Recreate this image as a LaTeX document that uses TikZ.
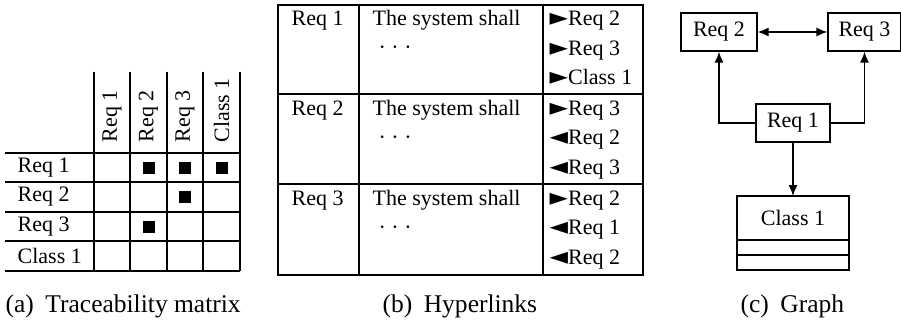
\documentclass[tikz,border=0pt]{standalone}
\usepackage{fontspec}
\setmainfont{Liberation Serif}
\newfontfamily\symfont{DejaVu Sans}
\usetikzlibrary{arrows.meta}
\newcommand\rtri{{\symfont\fontsize{24}{24}\selectfont ►}}
\newcommand\ltri{{\symfont\fontsize{24}{24}\selectfont ◄}}
\newcommand\mydots{·\kern5.5pt·\kern5.5pt·}
\begin{document}
\begin{tikzpicture}[x=1pt,y=-1pt,
  font=\fontsize{22}{26}\selectfont,
  line width=1.3pt,
  lab/.style={anchor=base west,inner sep=0pt},
  rowlab/.style={anchor=west,inner sep=0pt},
  collab/.style={anchor=west,rotate=90,inner sep=0pt},
  dotsq/.style={fill=black,minimum size=12pt,inner sep=0pt},
  box/.style={draw,line width=1.3pt,inner sep=0pt},
  captext/.style={anchor=base west,inner sep=0pt,font=\fontsize{25.5}{29}\selectfont},
  arr/.style={-{Latex[length=11pt,width=9pt]},line width=1.3pt}]
\useasboundingbox (0,0) rectangle (901,326);
% ---------- (a) matrix ----------
\foreach \x in {94,130,167,203,240} \draw (\x,72) -- (\x,271);
\foreach \y in {153,182,212,241,271} \draw (5,\y) -- (240,\y);
\node[collab] (h1) at (112,143) {Req 1};
\node[collab] (h2) at (148.5,143) {Req 2};
\node[collab] (h3) at (185,143) {Req 3};
\node[collab] (h4) at (221.5,143) {Class 1};
\node[rowlab] (m1) at (17,167.5) {Req 1};
\node[rowlab] (m2) at (17,197) {Req 2};
\node[rowlab] (m3) at (17,226.5) {Req 3};
\node[rowlab] (m4) at (17,256) {Class 1};
\node[dotsq] (s12) at (148.5,167.5) {};
\node[dotsq] (s13) at (185,167.5) {};
\node[dotsq] (s14) at (221.5,167.5) {};
\node[dotsq] (s23) at (185,197) {};
\node[dotsq] (s32) at (148.5,226.5) {};
% ---------- (b) hyperlinks ----------
\draw (278,5) rectangle (643,275);
\draw (359,5) -- (359,275);
\draw (543,5) -- (543,275);
\draw (278,94) -- (643,94);
\draw (278,184) -- (643,184);
\foreach \t/\n in {5/1,94/2,184/3}{
  \node[lab] (q\n) at (291,\t+21) {Req \n};
  \node[lab] (t\n) at (372,\t+21) {The system shall};
  \node[lab] (d\n) at (378,\t+50) {\mydots};
}
\node[lab] (l11) at (549,26) {\rtri Req 2};
\node[lab] (l12) at (549,55.5) {\rtri Req 3};
\node[lab] (l13) at (549,85) {\rtri Class 1};
\node[lab] (l21) at (549,115) {\rtri Req 3};
\node[lab] (l22) at (549,144.5) {\ltri Req 2};
\node[lab] (l23) at (549,174) {\ltri Req 3};
\node[lab] (l31) at (549,205) {\rtri Req 2};
\node[lab] (l32) at (549,234.5) {\ltri Req 1};
\node[lab] (l33) at (549,264) {\ltri Req 2};
% ---------- (c) graph ----------
\node[box,minimum width=76pt,minimum height=38pt] (g2) at (719,32) {Req 2};
\node[box,minimum width=73pt,minimum height=38pt] (g3) at (864.5,32) {Req 3};
\node[box,minimum width=74pt,minimum height=38pt] (g1) at (793,123) {Req 1};
\draw (737,196) rectangle (849,270);
\draw (737,240) -- (849,240);
\draw (737,255) -- (849,255);
\coordinate (ct) at (793,196);
\node[inner sep=0pt] (gc) at (793,218) {Class 1};
\draw[arr,{Latex[length=11pt,width=9pt]}-{Latex[length=11pt,width=9pt]}] (g2) -- (g3);
\draw[arr] (g1.west) -| (g2.south);
\draw[arr] (g1.east) -| (g3.south);
\draw[arr] (g1.south) -- (ct);
% ---------- captions ----------
\node[captext] (ca) at (5,312) {(a)\hspace{0.45em}Traceability matrix};
\node[captext] (cb) at (382,312) {(b)\hspace{0.45em}Hyperlinks};
\node[captext] (cc) at (740,312) {(c)\hspace{0.45em}Graph};
\end{tikzpicture}
\end{document}
